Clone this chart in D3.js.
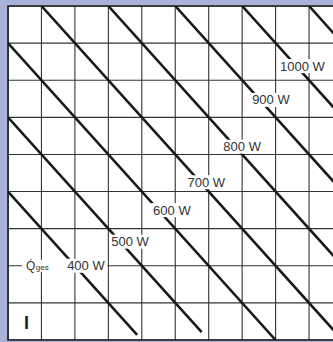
<!DOCTYPE html>
<html>
<head>
<meta charset="utf-8">
<script src="https://cdn.jsdelivr.net/npm/d3@7"></script>
<style>
  html, body { margin: 0; padding: 0; background: #aab2da; }
  svg { display: block; }
</style>
</head>
<body>
<svg></svg>
<script>
const width = 333;
const height = 342;

// grid: 10 columns x 9 rows (in grid units)
const numCols = 10;
const numRows = 9;

// diagonal lines (start / end in grid units)
const lineNames = ["400 W", "500 W", "600 W", "700 W", "800 W", "900 W", "1000 W", ""];
const startCol = [0, 0, 0, 1, 3, 5, 7, 9];
const startRow = [5, 3, 1, 0, 0, 0, 0, 0];
const endCol = [3.86, 5.79, 8, 10, 12, 14, 16, 18];
const endRow = [8.86, 8.79, 9, 9, 9, 9, 9, 9];

// where each label sits (grid units)
const labelCol = [2.33, 3.65, 4.9, 5.93, 7.0, 7.86, 8.8];
const labelRow = [7.0, 6.35, 5.5, 4.75, 3.79, 2.53, 1.62];

const axisName = "Q\u0307";
const axisSub = "ges";
const axisRow = 7;
const panelLabel = "I";

const plotLeft = 8, plotTop = 6, plotBottom = 340;
const colWidth = 33.45;

const x = d3.scaleLinear().domain([0, numCols]).range([plotLeft, plotLeft + numCols * colWidth]);
const y = d3.scaleLinear().domain([0, numRows]).range([plotTop, plotBottom]);

const svg = d3.select("svg")
    .attr("width", width)
    .attr("height", height);

svg.append("defs").append("clipPath")
    .attr("id", "plot")
    .append("rect")
    .attr("x", plotLeft)
    .attr("y", plotTop)
    .attr("width", width - plotLeft)
    .attr("height", plotBottom - plotTop);

svg.append("rect")
    .attr("x", plotLeft)
    .attr("y", plotTop)
    .attr("width", width - plotLeft)
    .attr("height", plotBottom - plotTop)
    .attr("fill", "white");

const plot = svg.append("g").attr("clip-path", "url(#plot)");

// grid
plot.append("g")
    .selectAll("line")
    .data(x.ticks(numCols))
    .enter()
    .append("line")
    .attr("x1", d => x(d))
    .attr("x2", d => x(d))
    .attr("y1", plotTop)
    .attr("y2", plotBottom)
    .attr("stroke", "#333")
    .attr("stroke-width", 1.1);

plot.append("g")
    .selectAll("line")
    .data(y.ticks(numRows))
    .enter()
    .append("line")
    .attr("x1", plotLeft)
    .attr("x2", width)
    .attr("y1", d => y(d))
    .attr("y2", d => y(d))
    .attr("stroke", "#333")
    .attr("stroke-width", 1.1);

// diagonals
plot.append("g")
    .selectAll("line")
    .data(lineNames)
    .enter()
    .append("line")
    .attr("x1", (d, i) => x(startCol[i]))
    .attr("y1", (d, i) => y(startRow[i]))
    .attr("x2", (d, i) => x(endCol[i]))
    .attr("y2", (d, i) => y(endRow[i]))
    .attr("stroke", "#1a1a1a")
    .attr("stroke-width", 2.6);

// frame
svg.append("path")
    .attr("d", `M${width},${plotTop}H${plotLeft}V${plotBottom}H${width}`)
    .attr("fill", "none")
    .attr("stroke", "#1a1a1a")
    .attr("stroke-width", 1.6);

// labels with white background
const labels = svg.append("g")
    .style("font-family", "'Liberation Sans', Arial, sans-serif")
    .style("font-size", "13px")
    .attr("fill", "#333");

// Q ges label on the grid line
const q = labels.append("g");
q.append("rect")
    .attr("x", 22)
    .attr("y", y(axisRow) - 6)
    .attr("width", 44)
    .attr("height", 12)
    .attr("fill", "white");
const qt = q.append("text")
    .attr("x", 26)
    .attr("y", y(axisRow) + 4.5)
    .style("font-size", "12px");
qt.append("tspan").text(axisName);
qt.append("tspan").style("font-size", "8px").attr("dx", 0.5).text(axisSub);

lineNames.slice(0, labelCol.length).forEach((name, i) => {
    const g = labels.append("g");
    const t = g.append("text")
        .attr("x", x(labelCol[i]))
        .attr("y", y(labelRow[i]))
        .attr("text-anchor", "middle")
        .attr("dominant-baseline", "central")
        .text(name);
    const b = t.node().getBBox();
    g.insert("rect", "text")
        .attr("x", b.x - 2)
        .attr("y", b.y + 0.5)
        .attr("width", b.width + 4)
        .attr("height", b.height - 1)
        .attr("fill", "white");
});

svg.append("text")
    .attr("x", 24)
    .attr("y", 328.5)
    .style("font-family", "'Liberation Sans', Arial, sans-serif")
    .style("font-size", "18px")
    .style("font-weight", "bold")
    .attr("fill", "#222")
    .text(panelLabel);
</script>
</body>
</html>
